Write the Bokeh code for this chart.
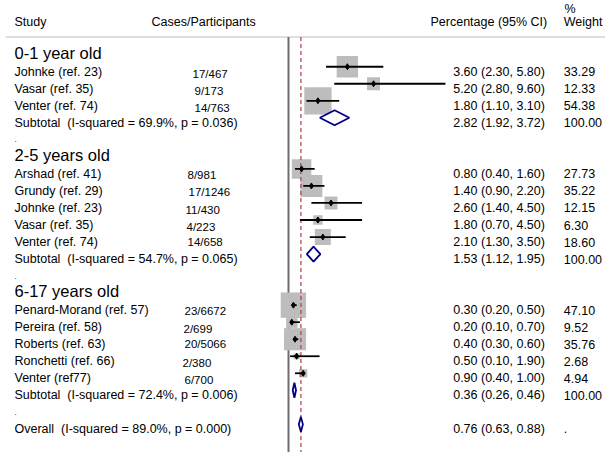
from bokeh.plotting import figure
from bokeh.models import Range1d
from bokeh.core.properties import value
from bokeh.embed import file_html
from bokeh.resources import INLINE

# ---------------- data ----------------
groups = ["0-1 year old", "2-5 years old", "6-17 years old"]
studies = ["Johnke (ref. 23)", "Vasar (ref. 35)", "Venter (ref. 74)",
           "Arshad (ref. 41)", "Grundy (ref. 29)", "Johnke (ref. 23)", "Vasar (ref. 35)", "Venter (ref. 74)",
           "Penard-Morand (ref. 57)", "Pereira (ref. 58)", "Roberts (ref. 63)", "Ronchetti (ref. 66)", "Venter (ref77)"]
study_group = [0, 0, 0, 1, 1, 1, 1, 1, 2, 2, 2, 2, 2]
cases = ["17/467", "9/173", "14/763", "8/981", "17/1246", "11/430", "4/223", "14/658",
         "23/6672", "2/699", "20/5066", "2/380", "6/700"]
est = [3.60, 5.20, 1.80, 0.80, 1.40, 2.60, 1.80, 2.10, 0.30, 0.20, 0.40, 0.50, 0.90]
lo = [2.30, 2.80, 1.10, 0.40, 0.90, 1.40, 0.70, 1.30, 0.20, 0.10, 0.30, 0.10, 0.40]
hi = [5.80, 9.60, 3.10, 1.60, 2.20, 4.50, 4.50, 3.50, 0.50, 0.70, 0.60, 1.90, 1.00]
weight = [33.29, 12.33, 54.38, 27.73, 35.22, 12.15, 6.30, 18.60, 47.10, 9.52, 35.76, 2.68, 4.94]
sub_est = [2.82, 1.53, 0.36]
sub_lo = [1.92, 1.12, 0.26]
sub_hi = [3.72, 1.95, 0.46]
sub_i2 = [69.9, 54.7, 72.4]
sub_p = [0.036, 0.065, 0.006]
overall_est, overall_lo, overall_hi = 0.76, 0.63, 0.88
overall_i2, overall_p = 89.0, 0.000

# ---------------- layout helpers (page pixels -> data) ----------------
W, H = 605, 452
DY = 4.5       # vertical page offset of the canvas
K = 16.35      # px per unit
X0 = 288.0     # page px of x = 0
R0, RS = 53.7, 17.03


def xd(px):
    return (px - X0) / K


def yd(py):
    return (py - R0) / RS


def ry(px_offset):
    return px_offset / RS


# case text jitter (layout only)
case_x = [192, 194, 194, 187, 188, 185, 186, 187, 184, 183, 184, 182, 184]
case_dy = [7.4, 7.6, 7.2, 5.6, 6.2, 7.4, 7.4, 5.2, 6.2, 6.8, 4.8, 6.8, 6.8]

# assign rows
rows_study, rows_sub, rows_head, rows_blank = [], [], [], []
r = 0
for g in range(len(groups)):
    rows_head.append(r)
    r += 1
    for i, sg in enumerate(study_group):
        if sg == g:
            rows_study.append(r)
            r += 1
    rows_sub.append(r)
    r += 1
    rows_blank.append(r)
    r += 1
row_overall = r

p = figure(width=W, height=H, output_backend="svg", toolbar_location=None,
           x_range=Range1d(xd(0), xd(W)), y_range=Range1d(yd(H + DY), yd(DY)),
           x_axis_type=None, y_axis_type=None, min_border=0)
p.grid.visible = False
p.outline_line_color = None
p.background_fill_color = "white"

FONT = value("Liberation Sans")
FS = "12.5px"

# header line
p.segment(x0=[xd(5)], y0=[yd(41)], x1=[xd(610)], y1=[yd(41)], line_color="#D4D4D4", line_width=1.5)
# zero line
p.segment(x0=[0], y0=[yd(41)], x1=[0], y1=[yd(470)], line_color="#6E6E6E", line_width=2)

# boxes (area proportional to weight)
box_sizes = [3.7 * w ** 0.5 for w in weight]
p.scatter(x=est, y=rows_study, size=box_sizes, marker="square",
          fill_color="#BDBDBD", line_color=None)

# overall reference line
p.segment(x0=[overall_est], y0=[yd(41)], x1=[overall_est], y1=[yd(470)],
          line_color="#B23A48", line_width=1.2, line_dash="4 3")

# CI lines and points
p.segment(x0=lo, y0=rows_study, x1=hi, y1=rows_study, line_color="black", line_width=1.8)
p.scatter(x=est, y=rows_study, size=6, marker="diamond", fill_color="black", line_color="black")

# diamonds
dh = ry(7.5)
xs, ys = [], []
for e, l, h, rr in zip(sub_est + [overall_est], sub_lo + [overall_lo], sub_hi + [overall_hi],
                       rows_sub + [row_overall]):
    xs.append([l, e, h, e])
    ys.append([rr, rr - dh, rr, rr + dh])
p.patches(xs=xs, ys=ys, fill_color="white", line_color="#000080", line_width=1.8)

# ---------------- texts ----------------
def txt(x, y, t, size=FS, align="left"):
    p.text(x=x, y=y, text=t, text_font=FONT, text_font_size=size, text_color="black",
           text_align=align, text_baseline="alphabetic")


# headers
txt([xd(14), xd(151)], [yd(25.7)] * 2, ["Study", "Cases/Participants"])
txt([xd(546.7)], [yd(25.7)], ["Percentage (95% CI)"], align="right")
txt([xd(563.3)], [yd(25.7)], ["Weight"])
txt([xd(564)], [yd(13)], ["%"])

# group headings
txt([xd(14)] * 3, [rr + ry(3) for rr in rows_head], groups, size="16.5px")

# studies
txt([xd(14)] * len(studies), [rr + ry(5) for rr in rows_study], studies)
txt([xd(c) for c in case_x], [rr + ry(d) for rr, d in zip(rows_study, case_dy)], cases, size="11.5px")
ci_txt = ["%.2f (%.2f, %.2f)" % (e, l, h) for e, l, h in zip(est, lo, hi)]
txt([xd(452.7)] * len(ci_txt), [rr + ry(5) for rr in rows_study], ci_txt)
txt([xd(563.3)] * len(weight), [rr + ry(5) for rr in rows_study], ["%.2f" % w for w in weight])

# subtotals
sub_lab = ["Subtotal\u00a0 (I-squared = %.1f%%, p = %.3f)" % (i2, pv) for i2, pv in zip(sub_i2, sub_p)]
txt([xd(14)] * 3, [rr + ry(5) for rr in rows_sub], sub_lab)
txt([xd(452.7)] * 3, [rr + ry(5) for rr in rows_sub],
    ["%.2f (%.2f, %.2f)" % (e, l, h) for e, l, h in zip(sub_est, sub_lo, sub_hi)])
txt([xd(563.3)] * 3, [rr + ry(5) for rr in rows_sub], ["100.00"] * 3)

# blank-row dots
txt([xd(14)] * 3, [rr + ry(5) for rr in rows_blank], ["."] * 3, size="8px")

# overall
txt([xd(14)], [row_overall + ry(4.5)],
    ["Overall\u00a0 (I-squared = %.1f%%, p = %.3f)" % (overall_i2, overall_p)])
txt([xd(452.7)], [row_overall + ry(4.5)], ["%.2f (%.2f, %.2f)" % (overall_est, overall_lo, overall_hi)])
txt([xd(563.3)], [row_overall + ry(4.5)], ["."])

open("out.html", "w").write(file_html(p, INLINE))
